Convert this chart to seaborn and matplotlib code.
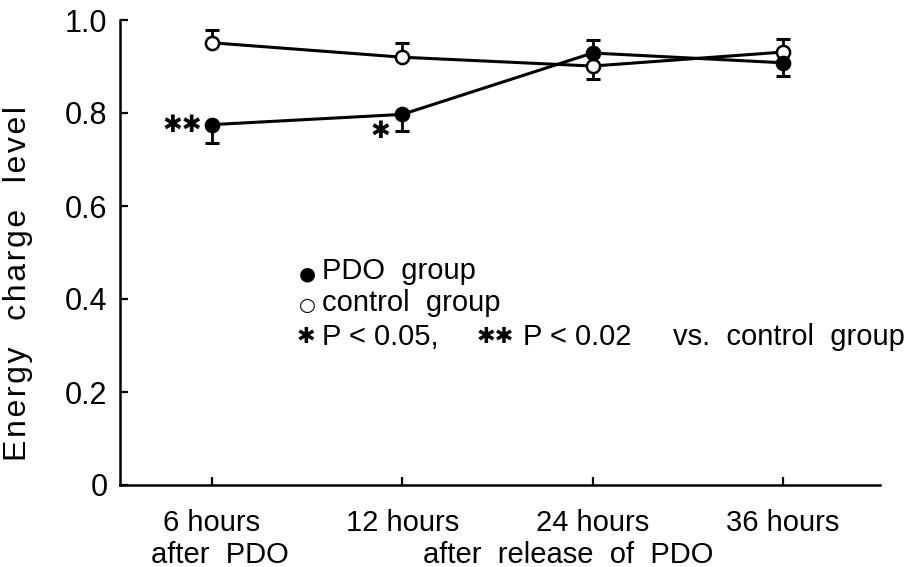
import numpy as np
import pandas as pd
import matplotlib
matplotlib.use("Agg")
import matplotlib.pyplot as plt
import seaborn as sns

# ---------------- data ----------------
timepoints = ["6 hours", "12 hours", "24 hours", "36 hours"]
second_line_labels = ["after  PDO", "after  release  of  PDO"]
pdo_mean = [0.775, 0.797, 0.929, 0.908]
pdo_err_low = [0.039, 0.035, 0.0, 0.028]
pdo_err_high = [0.0, 0.0, 0.028, 0.0]
ctl_mean = [0.951, 0.920, 0.901, 0.931]
ctl_err_low = [0.0, 0.0, 0.028, 0.0]
ctl_err_high = [0.027, 0.031, 0.0, 0.028]
yticks = [0, 0.2, 0.4, 0.6, 0.8, 1.0]
ytick_labels = ["0", "0.2", "0.4", "0.6", "0.8", "1.0"]
signif_marks = ["✱✱", "✱", "", ""]

sns.set_style("white")
plt.rcParams["font.family"] = ["Liberation Sans", "DejaVu Sans"]
for k in ["text.color", "axes.labelcolor", "xtick.color", "ytick.color"]:
    plt.rcParams[k] = "black"

x = np.arange(len(timepoints))
df = pd.DataFrame({
    "pos": np.concatenate([x, x]),
    "value": pdo_mean + ctl_mean,
    "group": ["PDO"] * len(x) + ["control"] * len(x),
})

fig = plt.figure(figsize=(9.09, 5.67), dpi=100)
ax = fig.add_axes([120 / 909, 1 - 485 / 567, 760 / 909, 465 / 567])

LW = 2.2


def draw_err(xs, mean, lo, hi):
    for xi, m, l, h in zip(xs, mean, lo, hi):
        for d in (-l, h):
            if d != 0:
                ax.plot([xi, xi], [m, m + d], color="black", lw=2.0, zorder=2,
                        solid_capstyle="butt")
                ax.plot([xi], [m + d], marker="_", ms=10, mew=2.2,
                        color="black", zorder=2)


draw_err(x, pdo_mean, pdo_err_low, pdo_err_high)
draw_err(x, ctl_mean, ctl_err_low, ctl_err_high)

sns.lineplot(data=df[df.group == "control"], x="pos", y="value", ax=ax,
             color="black", lw=LW, marker="o", ms=9.5, mew=1.8,
             markerfacecolor="white", markeredgecolor="black", zorder=3,
             legend=False)
sns.lineplot(data=df[df.group == "PDO"], x="pos", y="value", ax=ax,
             color="black", lw=LW, marker="o", ms=9.5, mew=1.8,
             markerfacecolor="black", markeredgecolor="black", zorder=4,
             legend=False)

# significance asterisks
ast_kw = dict(fontsize=17, family="DejaVu Sans")
ax.annotate(signif_marks[0], xy=(x[0], pdo_mean[0]), xytext=(-7, 0),
            textcoords="offset points", ha="right", va="center", **ast_kw)
ax.annotate(signif_marks[1], xy=(x[1], pdo_mean[1]), xytext=(-9, -12),
            textcoords="offset points", ha="right", va="center", **ast_kw)

ax.set_xlim(-0.483, 3.51)
ax.set_ylim(0, 1.0)
ax.set_yticks(yticks)
ax.set_yticklabels(ytick_labels)
ax.set_xticks(x)
ax.set_xticklabels(timepoints, fontsize=21)
ax.set_xlabel("")
hs = "\u200a"
ylab = "   ".join(hs.join(w) for w in ["Energy", "charge", "level"])
ax.set_ylabel(ylab, fontsize=23)
ax.yaxis.set_label_coords(-0.114, 0.434)

for s in ["top", "right"]:
    ax.spines[s].set_visible(False)
for s in ["left", "bottom"]:
    ax.spines[s].set_linewidth(1.8)
    ax.spines[s].set_color("black")
ax.tick_params(axis="y", direction="in", length=6, width=1.6, labelsize=22,
               pad=9, left=True)
ax.tick_params(axis="x", direction="in", length=6, width=1.6, pad=17,
               bottom=True)

# second line of x labels
ax.annotate(second_line_labels[0], xy=(x[0] + 0.04, 0), xycoords=("data", "axes fraction"),
            xytext=(0, -56), textcoords="offset points", ha="center",
            va="baseline", fontsize=21)
ax.annotate(second_line_labels[1], xy=(1.87, 0), xycoords=("data", "axes fraction"),
            xytext=(0, -56), textcoords="offset points", ha="center",
            va="baseline", fontsize=21)

# legend-like annotation text
lfs = 21
ax.text(0.247, 0.443, "●", transform=ax.transAxes, ha="center", va="baseline",
        fontsize=14, family="DejaVu Sans")
ax.text(0.266, 0.443, "PDO  group", transform=ax.transAxes, ha="left",
        va="baseline", fontsize=lfs)
ax.text(0.247, 0.374, "○", transform=ax.transAxes, ha="center", va="baseline",
        fontsize=14, family="DejaVu Sans")
ax.text(0.266, 0.374, "control  group", transform=ax.transAxes, ha="left",
        va="baseline", fontsize=lfs)
ax.text(0.245, 0.306, "✱", transform=ax.transAxes, ha="center", va="baseline",
        fontsize=16, family="DejaVu Sans")
ax.text(0.266, 0.301, "P < 0.05,", transform=ax.transAxes, ha="left",
        va="baseline", fontsize=lfs)
ax.text(0.469, 0.306, "✱✱", transform=ax.transAxes, ha="left", va="baseline",
        fontsize=16, family="DejaVu Sans")
ax.text(0.530, 0.301, "P < 0.02", transform=ax.transAxes,
        ha="left", va="baseline", fontsize=lfs)
ax.text(1.033, 0.301, "vs.  control  group", transform=ax.transAxes,
        ha="right", va="baseline", fontsize=lfs)

fig.savefig("out.png", dpi=100)
